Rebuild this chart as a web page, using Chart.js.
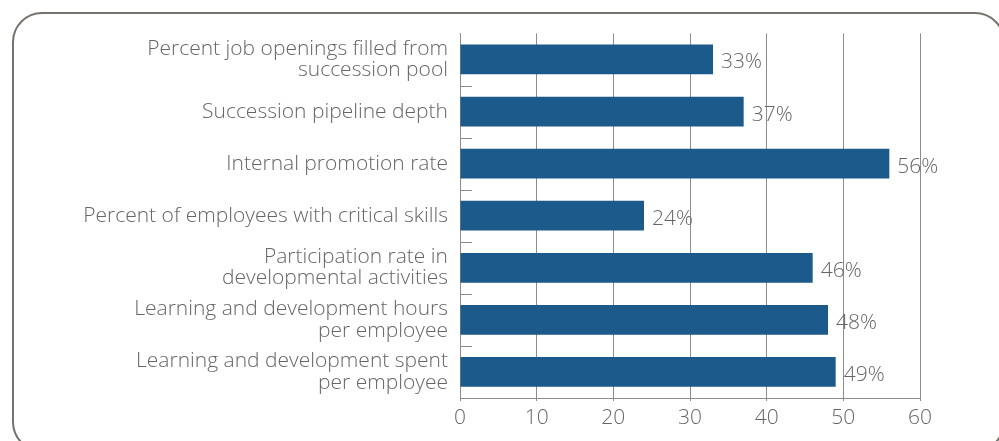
<!DOCTYPE html>
<html>
<head>
<meta charset="utf-8">
<script src="https://cdn.jsdelivr.net/npm/chart.js@4"></script>
<style>
  body { margin: 0; background: #fff; }
  #wrap { position: relative; width: 999px; height: 441px; overflow: hidden; }
  #frame {
    position: absolute; left: 12px; top: 12px; width: 993px; height: 440px;
    border: 2.5px solid #77726b; border-radius: 30px; box-sizing: border-box;
  }
  canvas { position: absolute; left: 0; top: 0; }
</style>
</head>
<body>
<div id="wrap">
  <div id="frame"></div>
  <canvas id="myChart" width="999" height="441"></canvas>
</div>
<script>
// categories, values (percent) and x tick range
const categories = [
    ['Percent job openings filled from', 'succession pool'],
    'Succession pipeline depth',
    'Internal promotion rate',
    'Percent of employees with critical skills',
    ['Participation rate in', 'developmental activities'],
    ['Learning and development hours', 'per employee'],
    ['Learning and development spent', 'per employee']
];
const values = [33, 37, 56, 24, 46, 48, 49];
const xMin = 0;
const xMax = 60;
const xStep = 10;

const textColor = '#666666';
const gridColor = '#8c8c8c';
const fontFamily = '"Open Sans", Lato, sans-serif';
const fontSize = 21;

// étiquettes de valeur à droite des barres
const valueLabels = {
    id: 'valueLabels',
    afterDatasetsDraw(chart) {
        const ctx = chart.ctx;
        const meta = chart.getDatasetMeta(0);
        ctx.save();
        ctx.font = '300 ' + fontSize + 'px ' + fontFamily;
        ctx.fillStyle = textColor;
        ctx.textAlign = 'left';
        ctx.textBaseline = 'middle';
        meta.data.forEach((bar, i) => {
            ctx.fillText(values[i] + '%', bar.x + 8, bar.y + 3);
        });
        ctx.restore();
    }
};

// petits traits entre les catégories, côté intérieur de l'axe
const innerTicks = {
    id: 'innerTicks',
    afterDatasetsDraw(chart) {
        const ctx = chart.ctx;
        const y = chart.scales.y;
        const left = chart.chartArea.left;
        ctx.save();
        ctx.strokeStyle = gridColor;
        ctx.lineWidth = 1;
        for (let i = 0; i < categories.length - 1; i++) {
            const py = Math.round((y.getPixelForValue(i) + y.getPixelForValue(i + 1)) / 2) + 0.5;
            ctx.beginPath();
            ctx.moveTo(left, py);
            ctx.lineTo(left + 12, py);
            ctx.stroke();
        }
        ctx.restore();
    }
};

const ctx = document.getElementById('myChart').getContext('2d');
const myChart = new Chart(ctx, {
    type: 'bar',
    data: {
        labels: categories,
        datasets: [{
            data: values,
            backgroundColor: '#1b5a8b',
            borderWidth: 0,
            categoryPercentage: 1,
            barPercentage: 0.57
        }]
    },
    options: {
        indexAxis: 'y',
        responsive: false,
        animation: false,
        layout: { padding: { left: 0, top: 32, right: 79, bottom: 0 } },
        plugins: {
            legend: { display: false },
            tooltip: { enabled: false }
        },
        scales: {
            y: {
                afterFit(scale) { scale.width = 460; },
                grid: { display: false, drawTicks: false },
                border: { display: true, color: gridColor, width: 1 },
                ticks: {
                    padding: 12,
                    color: textColor,
                    font: { family: fontFamily, size: fontSize, weight: 300, lineHeight: 1.02 }
                }
            },
            x: {
                min: xMin,
                max: xMax,
                afterFit(scale) { scale.height = 43; },
                grid: { color: gridColor, lineWidth: 1, tickLength: 3 },
                border: { display: true, color: gridColor, width: 1 },
                ticks: {
                    stepSize: xStep,
                    padding: 4,
                    color: textColor,
                    font: { family: fontFamily, size: fontSize, weight: 300 }
                }
            }
        }
    },
    plugins: [valueLabels, innerTicks]
});
</script>
</body>
</html>
